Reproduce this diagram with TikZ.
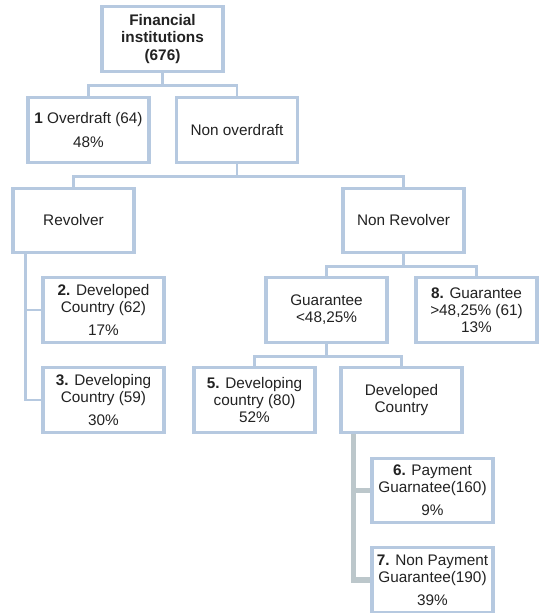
\documentclass[tikz,border=0pt]{standalone}
\usepackage{fontspec}
\setmainfont{Liberation Sans}
\definecolor{boxline}{HTML}{B6C9E0}
\definecolor{stemline}{HTML}{BCC7CB}
\definecolor{txt}{HTML}{222222}
\begin{document}
\begin{tikzpicture}[
    x=0.75pt, y=-0.75pt,
    bx/.style={draw=boxline, line width=1.6pt, fill=white, text=txt,
      minimum width=90pt, minimum height=47.5pt, inner sep=1pt,
      align=center, font=\fontsize{11.5}{12.8}\selectfont},
    ln/.style={draw=boxline, line width=2.2pt},
    stem/.style={draw=stemline, line width=3.8pt}
  ]
  \useasboundingbox (0,0) rectangle (539,613);
  % first levels
  \node[bx] (root) at (162.5,39) {\textbf{Financial}\\\textbf{institutions}\\\textbf{(676)}};
  \node[bx] (ovd) at (88.5,130) {\textbf{1} Overdraft (64)\\[4.5pt]48\%};
  \node[bx] (novd) at (237,130) {Non overdraft};
  \node[bx] (rev) at (73.5,220.5) {Revolver};
  \node[bx] (nrev) at (403.5,220.5) {Non Revolver};
  % revolver side
  \node[bx] (dev2) at (103.5,310) {\textbf{2.} Developed\\Country (62)\\[4.5pt]17\%};
  \node[bx] (dev3) at (103.5,400) {\textbf{3.} Developing\\Country (59)\\[4.5pt]30\%};
  % non revolver side
  \node[bx] (gless) at (326.5,310) {Guarantee\\<48,25\%};
  \node[bx] (gmore) at (476.5,310) {\textbf{8.} Guarantee\\>48,25\% (61)\\13\%};
  \node[bx] (dev5) at (254.5,400) {\textbf{5.} Developing\\country (80)\\52\%};
  \node[bx] (devc) at (401.5,400) {Developed\\Country};
  \node[bx] (pay6) at (432.5,490.5) {\textbf{6.} Payment\\Guarnatee(160)\\[4.5pt]9\%};
  \node[bx] (pay7) at (432.5,580) {\textbf{7.} Non Payment\\Guarantee(190)\\[4.5pt]39\%};
  % connectors
  \foreach \a/\b in {root/ovd, root/novd, novd/rev, novd/nrev, nrev/gless, nrev/gmore, gless/dev5, gless/devc} {
    \draw[ln] (\a.south) -- ++(0,13.5) -| (\b.north);
  }
  \coordinate (rstem) at ([xshift=9.75pt]rev.south west);
  \coordinate (dstem) at ([xshift=9.75pt]devc.south west);
  \draw[ln] (rstem) |- (dev2.west);
  \draw[ln] (rstem) |- (dev3.west);
  \draw[stem] (dstem) |- (pay6.west);
  \draw[stem] (dstem) |- (pay7.west);
  % boxes on top of lines
  \foreach \n in {root, ovd, novd, rev, nrev, dev2, dev3, gless, gmore, dev5, devc, pay6, pay7} {
    \draw[draw=boxline, line width=1.6pt] (\n.south west) rectangle (\n.north east);
  }
\end{tikzpicture}
\end{document}
